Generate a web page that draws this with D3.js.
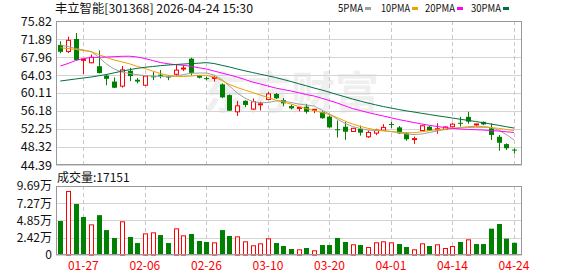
<!DOCTYPE html>
<html>
<head>
<meta charset="utf-8">
<script src="https://cdn.jsdelivr.net/npm/d3@7"></script>
<style>
  body { margin: 0; background: #fff; }
  text { font-family: "Noto Sans CJK SC", "DejaVu Sans", sans-serif; }
</style>
</head>
<body>
<script>
// trading days shown
let dates = ["01-22","01-23","01-26","01-27","01-28","01-29","01-30","02-02","02-03","02-04",
  "02-05","02-06","02-09","02-10","02-11","02-12","02-13","02-24","02-25","02-26",
  "02-27","03-02","03-03","03-04","03-05","03-06","03-09","03-10","03-11","03-12",
  "03-13","03-16","03-17","03-18","03-19","03-20","03-23","03-24","03-25","03-26",
  "03-27","03-30","03-31","04-01","04-02","04-03","04-07","04-08","04-09","04-10",
  "04-13","04-14","04-15","04-16","04-17","04-20","04-21","04-22","04-23","04-24"];

let open = [70.6,69.15,71.9,67.25,66.7,65.95,63.9,62.6,61.6,64.95,63.0,61.8,63.75,64.1,63.7,64.2,65.4,67.6,63.9,63.35,
  63.35,62.0,59.65,56.0,58.4,56.6,57.6,58.7,59.9,58.55,57.25,56.8,57.1,56.4,55.9,54.95,52.2,52.75,51.7,52.25,
  50.55,51.35,52.0,53.35,52.6,51.3,50.0,51.9,52.75,52.15,52.15,52.75,53.6,54.9,53.25,53.8,52.4,50.55,48.95,47.75];
let high = [71.4,72.4,73.2,67.5,68.5,69.4,64.25,63.5,66.0,65.6,63.4,63.9,64.75,65.1,64.0,66.2,66.2,67.8,64.0,63.7,
  63.8,62.2,59.8,58.35,58.5,58.9,58.2,60.3,60.1,59.0,57.6,57.0,57.7,56.6,56.1,55.2,54.1,53.8,52.5,53.0,
  51.9,52.3,53.3,53.8,52.9,51.5,50.6,53.1,52.9,53.5,52.8,53.5,54.9,56.0,53.4,53.9,53.5,50.95,49.1,48.0];
let low = [68.8,68.8,67.2,64.2,66.6,64.4,61.8,61.2,61.3,62.7,62.2,61.6,62.9,63.3,62.9,63.9,64.9,64.0,63.3,62.9,
  62.6,59.0,56.2,55.1,57.0,56.4,56.3,58.6,58.8,57.2,56.5,56.1,55.6,55.7,54.5,52.5,50.4,49.9,51.6,50.8,
  50.3,50.9,51.9,52.5,51.2,49.7,49.0,51.7,51.8,51.2,52.0,52.6,52.8,53.4,52.95,53.1,49.85,47.5,47.65,46.9];
let close = [69.1,71.6,67.3,67.45,67.9,64.45,63.2,61.25,65.15,63.8,62.6,63.8,63.6,63.95,63.6,65.1,65.55,64.5,63.45,63.25,
  63.5,59.15,56.25,57.3,57.5,58.2,57.75,59.9,58.95,57.85,56.75,56.95,56.0,56.55,54.6,52.6,52.05,51.65,52.4,51.45,
  51.5,52.0,52.6,53.2,51.3,50.0,50.15,52.95,51.9,52.3,52.7,53.3,53.45,53.85,53.35,53.25,50.95,49.25,48.05,47.65];

let volume = [47700,89900,71600,53400,43000,56000,35000,23900,47300,25300,
  16800,30400,31800,28000,16800,37400,27600,29500,19700,18300,
  17800,35000,26700,26200,19200,13600,16400,23400,16800,12600,
  8400,8000,9800,6600,14000,14000,23900,18300,15000,14000,
  11200,17800,19200,17800,15400,11200,8000,16400,12600,15000,
  9800,12600,18300,22000,15400,15400,37000,43500,23000,17151];
// 1 = up day (red), 0 = down day (green), as the volume bars show it
let volUp = [0,1,0,0,1,0,0,0,1,0, 0,1,1,0,0,1,1,0,0,0, 1,0,0,1,1,1,1,1,0,0,
  0,1,0,1,0,0,0,0,1,0, 1,1,1,1,0,0,1,1,0,1, 1,1,0,1,0,0,0,0,0,0];

let ma5 = [70.58,70.25,69.82,69.49,69.12,67.96,66.43,65.34,64.69,64.36,64.10,63.92,63.81,63.70,63.66,63.81,64.14,64.40,64.47,64.47,
  64.03,63.05,61.63,60.10,59.01,58.24,57.98,58.03,58.35,58.35,58.03,57.70,57.48,57.26,56.39,55.52,54.42,53.48,52.79,52.35,
  52.02,51.91,51.87,51.69,51.48,51.15,51.04,51.15,51.48,51.80,52.13,52.39,52.57,52.74,52.83,52.79,52.57,52.02,51.04,49.84];
let ma10 = [69.99,69.82,69.60,69.38,69.12,68.51,67.85,67.31,66.91,66.48,65.93,65.45,64.90,64.36,63.96,63.75,63.70,63.81,63.96,63.96,
  63.59,62.83,61.96,61.30,60.76,60.21,59.66,59.12,58.57,58.14,57.70,57.15,56.72,56.28,55.84,55.41,54.75,53.99,53.33,52.83,
  52.39,52.09,51.87,51.69,51.54,51.43,51.43,51.65,51.87,52.09,52.24,52.35,52.46,52.57,52.61,52.61,52.57,52.39,52.17,51.91];
let ma20 = [66.00,66.54,67.20,67.63,67.85,67.89,67.96,68.03,68.11,68.13,67.96,67.63,67.20,66.76,66.48,66.28,66.15,65.93,65.62,65.34,
  64.90,64.47,64.03,63.59,63.05,62.50,62.07,61.63,61.19,60.86,60.54,60.17,59.77,59.45,58.96,58.46,57.92,57.31,56.72,56.28,
  55.84,55.45,55.08,54.69,54.31,53.99,53.66,53.33,53.05,52.79,52.57,52.39,52.24,52.15,52.09,52.02,51.91,51.80,51.65,51.48];
let ma30 = [62.72,62.94,63.16,63.38,63.59,63.86,64.14,64.51,64.86,65.19,65.49,65.71,65.89,66.06,66.21,66.32,66.43,66.52,66.61,66.74,
  66.54,66.15,65.78,65.34,64.95,64.58,64.20,63.86,63.48,63.05,62.61,62.13,61.67,61.19,60.76,60.27,59.77,59.29,58.79,58.35,
  57.92,57.52,57.15,56.83,56.50,56.21,55.95,55.67,55.41,55.14,54.90,54.64,54.38,54.14,53.88,53.62,53.33,53.05,52.74,52.46];

let priceTicks = [75.82, 71.89, 67.96, 64.03, 60.11, 56.18, 52.25, 48.32, 44.39];
let volTicks = [96900, 72700, 48500, 24200, 0];
let volTickLabels = ["9.69万", "7.27万", "4.85万", "2.42万", "0"];
let dateTicks = ["01-27", "02-06", "02-26", "03-10", "03-20", "04-01", "04-14", "04-24"];
let maNames = ["5PMA", "10PMA", "20PMA", "30PMA"];

let RED = "#ff0000", GREEN = "#008000";
let maColors = ["#a0a0a0", "#f0a000", "#ff00ff", "#00703c"];

let svg = d3.select("body").append("svg")
  .attr("width", 578).attr("height", 276);

let x = d3.scalePoint().domain(dates).range([60.3, 514]);
let y = d3.scaleLinear().domain([44.39, 75.82]).range([165, 21]);
let yv = d3.scaleLinear().domain([0, 96900]).range([255, 186]);

// watermark
svg.append("text")
  .attr("x", 203).attr("y", 109)
  .attr("font-size", 44).attr("font-weight", "bold")
  .attr("fill", "#efefef")
  .text("东方财富");

// grids
function grid(g, ticks, scale, top, bottom) {
  g.selectAll(".h").data(ticks).enter().append("line")
    .attr("x1", 56).attr("x2", 522)
    .attr("y1", d => Math.round(scale(d)) + 0.5).attr("y2", d => Math.round(scale(d)) + 0.5)
    .attr("stroke", "#d4d4d4");
  g.selectAll(".v").data(dateTicks).enter().append("line")
    .attr("x1", d => Math.round(x(d)) + 0.5).attr("x2", d => Math.round(x(d)) + 0.5)
    .attr("y1", top).attr("y2", bottom)
    .attr("stroke", "#c8c8c8").attr("stroke-dasharray", "4,3");
}
grid(svg.append("g"), priceTicks, y, 21, 165);
grid(svg.append("g"), volTicks, yv, 186, 255);

// candles
let idx = d3.range(dates.length);
let candles = svg.append("g").selectAll("g").data(idx).enter().append("g");
candles.append("line")
  .attr("x1", i => Math.round(x(dates[i])) + 0.5).attr("x2", i => Math.round(x(dates[i])) + 0.5)
  .attr("y1", i => y(high[i])).attr("y2", i => y(low[i]))
  .attr("stroke", i => close[i] >= open[i] ? RED : GREEN);
candles.append("rect")
  .attr("x", i => Math.round(x(dates[i])) - 2 + (close[i] >= open[i] ? 0.5 : 0))
  .attr("width", i => close[i] >= open[i] ? 4 : 5)
  .attr("y", i => y(Math.max(open[i], close[i])))
  .attr("height", i => Math.max(1, y(Math.min(open[i], close[i])) - y(Math.max(open[i], close[i]))))
  .attr("fill", i => close[i] >= open[i] ? "#fff" : GREEN)
  .attr("stroke", i => close[i] >= open[i] ? RED : "none");

// moving averages
[ma5, ma10, ma20, ma30].forEach((ma, k) => {
  svg.append("path")
    .datum(ma)
    .attr("fill", "none")
    .attr("stroke", maColors[k])
    .attr("stroke-width", 1)
    .attr("d", d3.line().x((d, i) => x(dates[i])).y(d => y(d)));
});

// volume bars
svg.append("g").selectAll("rect").data(idx).enter().append("rect")
  .attr("x", i => Math.round(x(dates[i])) - 2 + (volUp[i] ? 0.5 : 0))
  .attr("width", i => volUp[i] ? 4 : 5)
  .attr("y", i => yv(volume[i]) + (volUp[i] ? 0.5 : 0))
  .attr("height", i => yv(0) - yv(volume[i]) - (volUp[i] ? 0.5 : 0))
  .attr("fill", i => volUp[i] ? "#fff" : GREEN)
  .attr("stroke", i => volUp[i] ? RED : "none");

// frames
svg.append("rect").attr("x", 56.5).attr("y", 21.5).attr("width", 465).attr("height", 143)
  .attr("fill", "none").attr("stroke", "#999");
svg.append("rect").attr("x", 56.5).attr("y", 186.5).attr("width", 465).attr("height", 68)
  .attr("fill", "none").attr("stroke", "#999");

// axis labels
svg.append("g").selectAll("text").data(priceTicks).enter().append("text")
  .attr("x", 52).attr("y", d => y(d)).attr("dy", "0.36em")
  .attr("text-anchor", "end").attr("font-size", 12.5).attr("fill", "#111")
  .text(d => d.toFixed(2));
svg.append("g").selectAll("text").data(volTicks).enter().append("text")
  .attr("x", 52).attr("y", d => yv(d)).attr("dy", "0.36em")
  .attr("text-anchor", "end").attr("font-size", 12).attr("fill", "#111")
  .text((d, i) => volTickLabels[i]);
svg.append("g").selectAll("text").data(dateTicks).enter().append("text")
  .attr("x", d => x(d)).attr("y", 266).attr("dy", "0.36em")
  .attr("text-anchor", "middle").attr("font-size", 12).attr("fill", RED)
  .text(d => d);

// title and volume caption
svg.append("text").attr("x", 55).attr("y", 8.5).attr("dy", "0.36em")
  .attr("font-size", 12).attr("fill", "#111")
  .attr("textLength", 198).attr("lengthAdjust", "spacingAndGlyphs")
  .text("丰立智能[301368] 2026-04-24 15:30");
svg.append("text").attr("x", 57).attr("y", 178).attr("dy", "0.36em")
  .attr("font-size", 12).attr("fill", "#111")
  .text("成交量:" + volume[volume.length - 1]);

// legend
let legX = [338, 381, 425, 471];
let legW = [25, 29, 30, 30];
let leg = svg.append("g").selectAll("g").data(maNames).enter().append("g");
leg.append("text")
  .attr("x", (d, i) => legX[i]).attr("y", 8.5).attr("dy", "0.36em")
  .attr("font-size", 11).attr("fill", "#111")
  .attr("textLength", (d, i) => legW[i]).attr("lengthAdjust", "spacingAndGlyphs")
  .text(d => d);
leg.append("rect")
  .attr("x", (d, i) => legX[i] + legW[i] + 2).attr("y", 7)
  .attr("width", 6).attr("height", 3)
  .attr("fill", (d, i) => maColors[i]);
</script>
</body>
</html>
